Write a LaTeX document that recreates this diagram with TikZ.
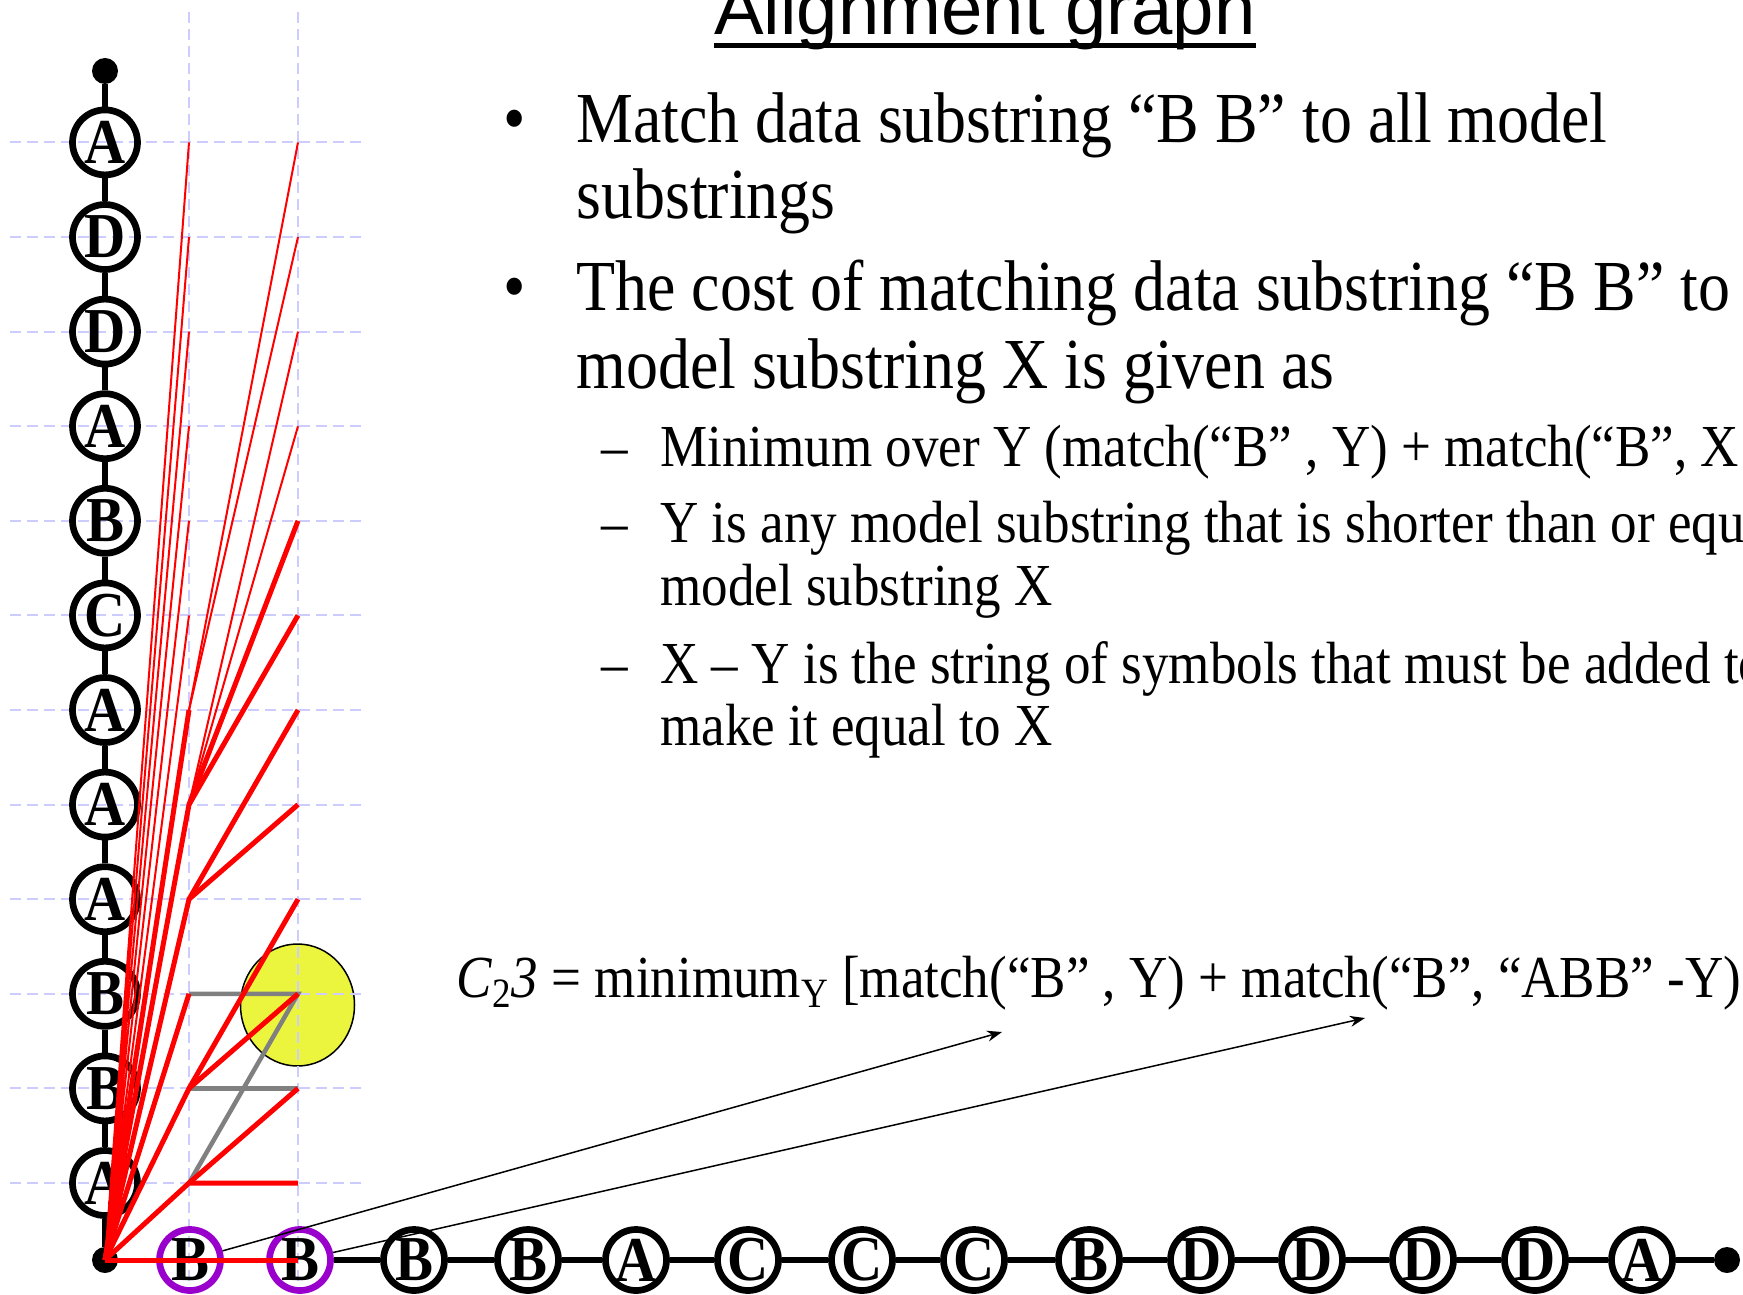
\documentclass[tikz,border=0pt]{standalone}
\usepackage{fontspec}
\setmainfont{Liberation Serif}[FakeStretch=0.89]
\newfontfamily\arialfont{Liberation Sans}
\usetikzlibrary{arrows.meta}
\definecolor{gridc}{RGB}{204,204,255}
\definecolor{sel}{RGB}{153,0,204}
\definecolor{hl}{RGB}{236,245,62}

\begin{document}
\begin{tikzpicture}[x=0.5pt,y=-0.5pt,
  msym/.style={circle,draw,line width=3.35pt,inner sep=0pt,minimum size=32.5pt,font=\fontsize{32}{32}\selectfont\bfseries},
  dsym/.style={msym,minimum size=30.5pt},
  dot/.style={circle,fill,inner sep=0pt,minimum size=13pt},
  link/.style={line width=2.85pt},
  gline/.style={gridc,line width=1pt,dash pattern=on 5.5pt off 3pt},
  strong/.style={red,line width=2.5pt},
  weak/.style={red,line width=1pt},
  trace/.style={gray,line width=2.25pt},
  ptr/.style={-{Stealth[length=7.5pt,width=5.5pt]},line width=0.75pt},
  txt/.style={anchor=base west,inner sep=0pt,font=\fontsize{35.9}{40}\selectfont},
  sub/.style={txt,font=\fontsize{29.8}{34}\selectfont}]
\useasboundingbox (0,0) rectangle (1743,1294);
\clip (0,0) rectangle (1743,1294);
\fill[hl,draw=black,line width=0.75pt] (297.5,1005) ellipse [x radius=28.5pt,y radius=30.5pt];
\coordinate (a0) at (189,1260);
\coordinate (b0) at (298,1260);
\foreach \j in {1,...,12} {
  \coordinate (a\j) at (189,{1183-94.6*(\j-1)});
  \coordinate (b\j) at (298,{1183-94.6*(\j-1)});
  \draw[gline] (10,{1183-94.6*(\j-1)}) -- (366,{1183-94.6*(\j-1)});
}
\draw[gline] (189,12) -- (189,1294);
\draw[gline] (298,12) -- (298,1294);
\node[dot] (o) at (105,1260) {};
\node[dot] (vtop) at (105,71) {};
\node[msym] (v1) at (105,1183) {A};
\node[msym] (v2) at (105,1088.4) {B};
\node[msym] (v3) at (105,993.8) {B};
\node[msym] (v4) at (105,899.2) {A};
\node[msym] (v5) at (105,804.6) {A};
\node[msym] (v6) at (105,710) {A};
\node[msym] (v7) at (105,615.4) {C};
\node[msym] (v8) at (105,520.8) {B};
\node[msym] (v9) at (105,426.2) {A};
\node[msym] (v10) at (105,331.6) {D};
\node[msym] (v11) at (105,237) {D};
\node[msym] (v12) at (105,142.4) {A};
\node[dsym,draw=sel] (h1) at (190,1260) {B};
\node[dsym,draw=sel] (h2) at (300,1260) {B};
\node[dsym] (h3) at (414,1260) {B};
\node[dsym] (h4) at (528,1260) {B};
\node[dsym] (h5) at (636,1260) {A};
\node[dsym] (h6) at (748,1260) {C};
\node[dsym] (h7) at (862,1260) {C};
\node[dsym] (h8) at (974,1260) {C};
\node[dsym] (h9) at (1089,1260) {B};
\node[dsym] (h10) at (1201,1260) {D};
\node[dsym] (h11) at (1312,1260) {D};
\node[dsym] (h12) at (1423,1260) {D};
\node[dsym] (h13) at (1535,1260) {D};
\node[dsym] (h14) at (1642,1260) {A};
\node[dot] (hend) at (1727,1260) {};
\draw[link] (vtop) -- (v12) -- (v11) -- (v10) -- (v9) -- (v8) -- (v7) -- (v6) -- (v5) -- (v4) -- (v3) -- (v2) -- (v1) -- (o);
\draw[link] (h2) -- (h3) -- (h4) -- (h5) -- (h6) -- (h7) -- (h8) -- (h9) -- (h10) -- (h11) -- (h12) -- (h13) -- (h14) -- (hend);
\draw[trace] (a3) -- (b3) -- (a1);
\draw[trace] (a2) -- (b2);
\draw[strong] (o.center) -- (a0) -- (b0);
\draw[strong] (o.center) -- (a1) -- (b1);
\draw[strong] (a1) -- (b2);
\draw[strong] (o.center) -- (a2) -- (b3);
\draw[strong] (a2) -- (b4);
\draw[strong] (o.center) -- (a3);
\draw[strong] (o.center) -- (a4) -- (b5);
\draw[strong] (a4) -- (b6);
\draw[strong] (o.center) -- (a5) -- (b7);
\draw[strong] (a5) -- (b8);
\draw[strong] (o.center) -- (a6);
\draw[weak] (a5) -- (b9);
\draw[weak] (a5) -- (b10);
\draw[weak] (a6) -- (b11);
\draw[weak] (a6) -- (b12);
\draw[weak] (o.center) -- (a7) (o.center) -- (a8) (o.center) -- (a9) (o.center) -- (a10) (o.center) -- (a11) (o.center) -- (a12);
\coordinate (t1) at (1002,1032);
\coordinate (t2) at (1365,1018);
\draw[ptr] (h1) -- (t1);
\draw[ptr] (h2) -- (t2);
\node[anchor=base west,inner sep=0pt,font=\arialfont\fontsize{37.15}{40}\selectfont] (ttl) at (714,35) {Alignment graph};
\draw[line width=2.5pt] ([yshift=-5.25pt]ttl.base west) -- ([yshift=-5.25pt]ttl.base east);
\node[txt] (bul1) at (503,143) {•};
\node[txt] (l1) at (576,143) {Match data substring “B B” to all model};
\node[txt] (l2) at (576,218.5) {substrings};
\node[txt] (bul2) at (503,311) {•};
\node[txt] (l3) at (576,311) {The cost of matching data substring “B B” to};
\node[txt] (l4) at (576,388) {model substring X is given as};
\node[sub] (d1) at (601,466) {–};
\node[sub] (l5) at (660,466) {Minimum over Y (match(“B” , Y) + match(“B”, X};
\node[sub] (d2) at (601,542) {–};
\node[sub] (l6) at (660,542) {Y is any model substring that is shorter than or equal to};
\node[sub] (l7) at (660,605) {model substring X};
\node[sub] (d3) at (601,683) {–};
\node[sub] (l8) at (660,683) {X – Y is the string of symbols that must be added to};
\node[sub] (l9) at (660,745) {make it equal to X};
\node[sub] (cf) at (456,997) {\textit{C}\textsubscript{2}\textit{3} = minimum\textsubscript{Y} [match(“B” , Y) + match(“B”, “ABB” -Y)};
\end{tikzpicture}
\end{document}
